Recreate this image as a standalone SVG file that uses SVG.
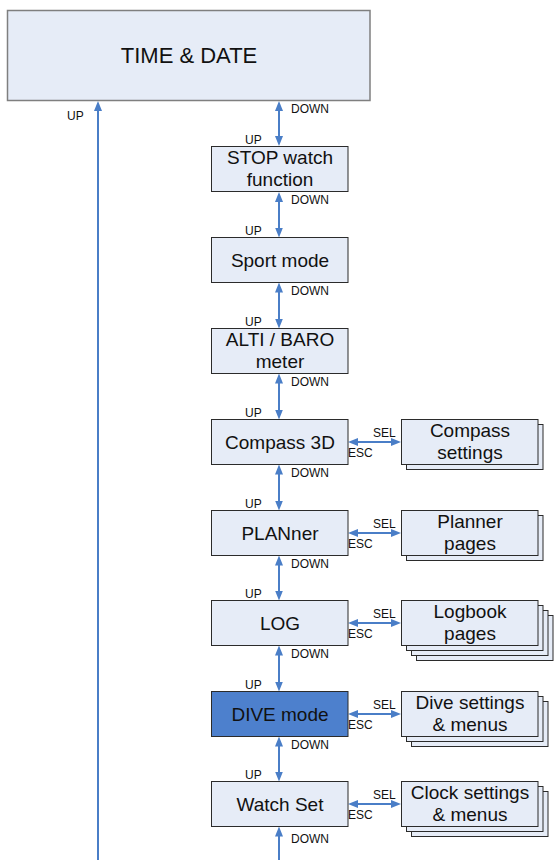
<svg xmlns="http://www.w3.org/2000/svg" width="555" height="860" viewBox="0 0 555 860">
<defs>
<style>
.bg{fill:#ffffff}
.box{fill:#E6ECF7;stroke:#2b2b2b;stroke-width:1}
.top{fill:#E6ECF7;stroke:#7f7f7f;stroke-width:1.5}
.dive{fill:#4D80CD;stroke:#2b2b2b;stroke-width:1}
.t{font-family:"Liberation Sans",Arial,sans-serif;font-size:19px;fill:#111;text-anchor:middle}
.tt{font-family:"Liberation Sans",Arial,sans-serif;font-size:22px;fill:#111;text-anchor:middle}
.l{font-family:"Liberation Sans",Arial,sans-serif;font-size:12px;fill:#111}
.c{stroke:#4A7EC7;stroke-width:2;fill:none}
</style>
<marker id="ah" viewBox="0 0 10 8" refX="1" refY="4" markerWidth="10" markerHeight="8" markerUnits="userSpaceOnUse" orient="auto-start-reverse">
<path d="M0,0 L10,4 L0,8 z" fill="#4A7EC7"/>
</marker>
</defs>
<rect class="bg" x="0" y="0" width="555" height="860"/>

<g id="connectors">
<!-- long UP line on left -->
<path class="c" d="M98,860 L98,110" marker-end="url(#ah)"/>
<!-- vertical double arrows -->
<path class="c" d="M279,110 L279,137" marker-start="url(#ah)" marker-end="url(#ah)"/>
<path class="c" d="M279,201 L279,228.5" marker-start="url(#ah)" marker-end="url(#ah)"/>
<path class="c" d="M279,291.5 L279,319.5" marker-start="url(#ah)" marker-end="url(#ah)"/>
<path class="c" d="M279,382.5 L279,410.5" marker-start="url(#ah)" marker-end="url(#ah)"/>
<path class="c" d="M279,473.5 L279,501.5" marker-start="url(#ah)" marker-end="url(#ah)"/>
<path class="c" d="M279,564.5 L279,591.5" marker-start="url(#ah)" marker-end="url(#ah)"/>
<path class="c" d="M279,654.5 L279,682.5" marker-start="url(#ah)" marker-end="url(#ah)"/>
<path class="c" d="M279,745.5 L279,772.5" marker-start="url(#ah)" marker-end="url(#ah)"/>
<path class="c" d="M279,860 L279,835.5" marker-end="url(#ah)"/>
<!-- horizontal SEL/ESC arrows -->
<path class="c" d="M357,442 L392,442" marker-start="url(#ah)" marker-end="url(#ah)"/>
<path class="c" d="M357,533 L392,533" marker-start="url(#ah)" marker-end="url(#ah)"/>
<path class="c" d="M357,623 L392,623" marker-start="url(#ah)" marker-end="url(#ah)"/>
<path class="c" d="M357,714 L392,714" marker-start="url(#ah)" marker-end="url(#ah)"/>
<path class="c" d="M357,804 L392,804" marker-start="url(#ah)" marker-end="url(#ah)"/>
<!-- labels -->
<text class="l" x="67" y="120">UP</text>
<text class="l" x="291" y="112.5">DOWN</text>
<text class="l" x="245" y="143.5">UP</text>
<text class="l" x="291" y="203.5">DOWN</text>
<text class="l" x="245" y="234.5">UP</text>
<text class="l" x="291" y="294.5">DOWN</text>
<text class="l" x="245" y="325.5">UP</text>
<text class="l" x="291" y="385.5">DOWN</text>
<text class="l" x="245" y="416.5">UP</text>
<text class="l" x="291" y="476.5">DOWN</text>
<text class="l" x="245" y="507.5">UP</text>
<text class="l" x="291" y="567.5">DOWN</text>
<text class="l" x="245" y="597.5">UP</text>
<text class="l" x="291" y="657.5">DOWN</text>
<text class="l" x="245" y="688.5">UP</text>
<text class="l" x="291" y="748.5">DOWN</text>
<text class="l" x="245" y="778.5">UP</text>
<text class="l" x="291" y="843">DOWN</text>
<text class="l" x="373" y="437">SEL</text><text class="l" x="348" y="456.5">ESC</text>
<text class="l" x="373" y="528">SEL</text><text class="l" x="348" y="547.5">ESC</text>
<text class="l" x="373" y="618">SEL</text><text class="l" x="348" y="637.5">ESC</text>
<text class="l" x="373" y="709">SEL</text><text class="l" x="348" y="728.5">ESC</text>
<text class="l" x="373" y="799">SEL</text><text class="l" x="348" y="818.5">ESC</text>
</g>

<g id="time-date">
<rect class="top" x="7.5" y="10.5" width="362.5" height="90"/>
<text class="tt" x="189" y="63">TIME &amp; DATE</text>
</g>
<g id="stopwatch">
<rect class="box" x="211.5" y="146.5" width="136.5" height="45"/>
<text class="t" x="280" y="163.5">STOP watch</text>
<text class="t" x="280" y="186">function</text>
</g>
<g id="sport">
<rect class="box" x="211.5" y="237.5" width="136.5" height="45"/>
<text class="t" x="280" y="266.5">Sport mode</text>
</g>
<g id="altibaro">
<rect class="box" x="211.5" y="328.5" width="136.5" height="45"/>
<text class="t" x="280" y="345.5">ALTI / BARO</text>
<text class="t" x="280" y="368">meter</text>
</g>
<g id="compass">
<rect class="box" x="211.5" y="419.5" width="136.5" height="45"/>
<text class="t" x="280" y="448.5">Compass 3D</text>
</g>
<g id="planner">
<rect class="box" x="211.5" y="510.5" width="136.5" height="45"/>
<text class="t" x="280" y="539.5">PLANner</text>
</g>
<g id="log">
<rect class="box" x="211.5" y="600.5" width="136.5" height="45"/>
<text class="t" x="280" y="629.5">LOG</text>
</g>
<g id="dive">
<rect class="dive" x="211.5" y="691.5" width="136.5" height="45"/>
<text class="t" x="280" y="720.5">DIVE mode</text>
</g>
<g id="watchset">
<rect class="box" x="211.5" y="781.5" width="136.5" height="45"/>
<text class="t" x="280" y="810.5">Watch Set</text>
</g>

<g id="compass-settings">
<rect class="box" x="406.5" y="424.5" width="136.5" height="45"/>
<rect class="box" x="401.5" y="419.5" width="136.5" height="45"/>
<text class="t" x="470" y="437">Compass</text>
<text class="t" x="470" y="459">settings</text>
</g>
<g id="planner-pages">
<rect class="box" x="406.5" y="515.5" width="136.5" height="45"/>
<rect class="box" x="401.5" y="510.5" width="136.5" height="45"/>
<text class="t" x="470" y="528">Planner</text>
<text class="t" x="470" y="550">pages</text>
</g>
<g id="logbook-pages">
<rect class="box" x="416.5" y="615.5" width="136.5" height="45"/>
<rect class="box" x="411.5" y="610.5" width="136.5" height="45"/>
<rect class="box" x="406.5" y="605.5" width="136.5" height="45"/>
<rect class="box" x="401.5" y="600.5" width="136.5" height="45"/>
<text class="t" x="470" y="618">Logbook</text>
<text class="t" x="470" y="640">pages</text>
</g>
<g id="dive-settings">
<rect class="box" x="411.5" y="701.5" width="136.5" height="45"/>
<rect class="box" x="406.5" y="696.5" width="136.5" height="45"/>
<rect class="box" x="401.5" y="691.5" width="136.5" height="45"/>
<text class="t" x="470" y="709">Dive settings</text>
<text class="t" x="470" y="731">&amp; menus</text>
</g>
<g id="clock-settings">
<rect class="box" x="411.5" y="791.5" width="136.5" height="45"/>
<rect class="box" x="406.5" y="786.5" width="136.5" height="45"/>
<rect class="box" x="401.5" y="781.5" width="136.5" height="45"/>
<text class="t" x="470" y="799">Clock settings</text>
<text class="t" x="470" y="821">&amp; menus</text>
</g>
</svg>
